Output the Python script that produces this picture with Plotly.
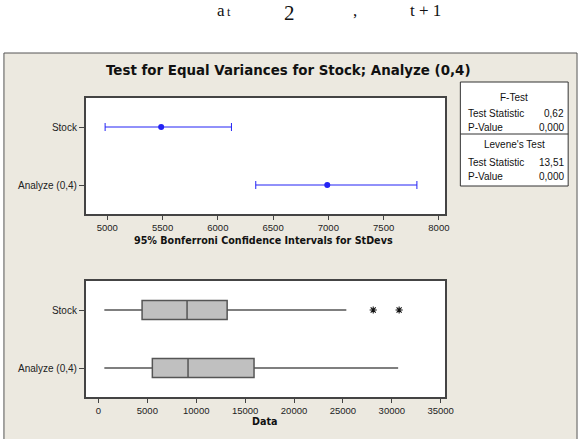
import plotly.graph_objects as go

W, H = 588, 439

# ---------------- data ----------------
categories = ["Analyze (0,4)", "Stock"]          # bottom -> top
cat_pos = [0, 1]

# 95% Bonferroni confidence intervals for StDevs
ci_lower = [6343, 4980]
ci_point = [6990, 5487]
ci_upper = [7801, 6123]

# box plot summaries
box_low = [600, 600]
box_q1 = [5510, 4460]
box_median = [9160, 9060]
box_q3 = [15910, 13160]
box_high = [30650, 25350]
outlier_x = [28100, 30750]
outlier_cat = [1, 1]

ci_ticks = [5000, 5500, 6000, 6500, 7000, 7500, 8000]
data_ticks = [0, 5000, 10000, 15000, 20000, 25000, 30000, 35000]

title_text = "Test for Equal Variances for Stock; Analyze (0,4)"
ci_axis_title = "95% Bonferroni Confidence Intervals for StDevs"
data_axis_title = "Data"
ftest_rows = [("Test Statistic", "0,62"), ("P-Value", "0,000")]
levene_rows = [("Test Statistic", "13,51"), ("P-Value", "0,000")]


def px(x):
    return x / W


def py(y):
    return 1 - y / H


BLUE = "#2323f5"
TICKFONT = dict(family="Liberation Sans, Arial, sans-serif", size=10, color="#222")
XTICKFONT = dict(family="Liberation Sans, Arial, sans-serif", size=9.5, color="#222")
BOLD = "DejaVu Sans, Verdana, sans-serif"

fig = go.Figure()

# CI plot
fig.add_trace(go.Scatter(
    x=ci_point, y=cat_pos, mode="markers",
    marker=dict(color=BLUE, size=6),
    error_x=dict(type="data", symmetric=False,
                 array=[u - p for u, p in zip(ci_upper, ci_point)],
                 arrayminus=[p - l for p, l in zip(ci_point, ci_lower)],
                 color=BLUE, thickness=1, width=4),
    xaxis="x", yaxis="y", showlegend=False, hoverinfo="skip"))

# Box plots
for i in range(len(categories)):
    fig.add_trace(go.Box(
        y=[cat_pos[i]], q1=[box_q1[i]], median=[box_median[i]], q3=[box_q3[i]],
        lowerfence=[box_low[i]], upperfence=[box_high[i]],
        orientation="h", width=0.33, whiskerwidth=0, boxpoints=False,
        fillcolor="#c0c0c0", line=dict(color="#555555", width=1.5),
        xaxis="x2", yaxis="y2", showlegend=False, hoverinfo="skip"))

fig.add_trace(go.Scatter(
    x=outlier_x, y=outlier_cat, mode="markers",
    marker=dict(symbol="asterisk-open", size=6, color="#111",
                line=dict(color="#111", width=1.1)),
    xaxis="x2", yaxis="y2", showlegend=False, hoverinfo="skip"))

axis_common = dict(showline=True, mirror=True, linecolor="#444", linewidth=1.5,
                   showgrid=False, zeroline=False, ticks="outside",
                   tickcolor="#444", tickwidth=1)

xdom = [px(87), px(452)]
fig.update_layout(
    width=W, height=H, margin=dict(l=0, r=0, t=0, b=0),
    paper_bgcolor="white", plot_bgcolor="white", showlegend=False,
    xaxis=dict(domain=xdom, range=[4804, 8056], tickvals=ci_ticks, tickformat="d",
               ticklen=4, tickfont=XTICKFONT, anchor="y", **axis_common),
    yaxis=dict(domain=[py(214), py(98)], range=[-0.5, 1.5], tickvals=cat_pos,
               ticktext=categories, ticklen=5, tickfont=TICKFONT, anchor="x",
               **axis_common),
    xaxis2=dict(domain=xdom, range=[-1310, 35450], tickvals=data_ticks, tickformat="d",
                ticklen=4, tickfont=XTICKFONT, anchor="y2", **axis_common),
    yaxis2=dict(domain=[py(397), py(281)], range=[-0.5, 1.5], tickvals=cat_pos,
                ticktext=categories, ticklen=5, tickfont=TICKFONT, anchor="x2",
                **axis_common),
)

shapes = [
    # beige frame
    dict(type="rect", xref="paper", yref="paper", x0=px(4), x1=px(586),
         y0=py(460), y1=py(53), fillcolor="#ece9e0",
         line=dict(color="#555", width=1), layer="below"),
    # plot backgrounds
    dict(type="rect", xref="paper", yref="paper", x0=xdom[0], x1=xdom[1],
         y0=py(214), y1=py(98), fillcolor="white", line=dict(width=0), layer="below"),
    dict(type="rect", xref="paper", yref="paper", x0=xdom[0], x1=xdom[1],
         y0=py(397), y1=py(281), fillcolor="white", line=dict(width=0), layer="below"),
    # stats box
    dict(type="rect", xref="paper", yref="paper", x0=px(467.5), x1=px(577),
         y0=py(186), y1=py(82), fillcolor="white",
         line=dict(color="#333", width=1), layer="below"),
    dict(type="line", xref="paper", yref="paper", x0=px(467.5), x1=px(577),
         y0=py(134), y1=py(134), line=dict(color="#333", width=1)),
]
fig.update_layout(shapes=shapes)

SBFONT = dict(family="Liberation Sans, Arial, sans-serif", size=10, color="#111")
ann = []


def text(x, y, s, font, xanchor="center", yanchor="middle"):
    ann.append(dict(x=px(x), y=py(y), xref="paper", yref="paper", text=s,
                    showarrow=False, font=font, xanchor=xanchor, yanchor=yanchor,
                    borderpad=0))


text(293, 70, "<b>" + title_text + "</b>", dict(family=BOLD, size=13.4, color="#111"))
text(268, 240, "<b>" + ci_axis_title + "</b>", dict(family=BOLD, size=9.6, color="#111"))
text(269, 421.5, "<b>" + data_axis_title + "</b>", dict(family=BOLD, size=9.6, color="#111"))

text(522, 97, "F-Test", SBFONT)
for (lab, val), yy in zip(ftest_rows, [113, 127]):
    text(474, yy, lab, SBFONT, xanchor="left")
    text(574, yy, val, SBFONT, xanchor="right")
text(522, 144, "Levene's Test", SBFONT)
for (lab, val), yy in zip(levene_rows, [162.5, 176]):
    text(474, yy, lab, SBFONT, xanchor="left")
    text(574, yy, val, SBFONT, xanchor="right")

# formula fragment at the top of the page (kept inside the page)
SERIF = dict(family="Liberation Serif, DejaVu Serif, serif", size=17, color="#111")
text(224, 0, "a", SERIF, yanchor="top")
text(233, 4, "t", dict(family="Liberation Serif, DejaVu Serif, serif", size=12, color="#111"),
     yanchor="top")
text(294, 0, "2", dict(family="Liberation Serif, DejaVu Serif, serif", size=21, color="#111"),
     yanchor="top")
text(361, 0, ",", SERIF, yanchor="top")
text(432, 0, "t + 1", SERIF, yanchor="top")

fig.update_layout(annotations=ann)

fig.write_html("out.html")
